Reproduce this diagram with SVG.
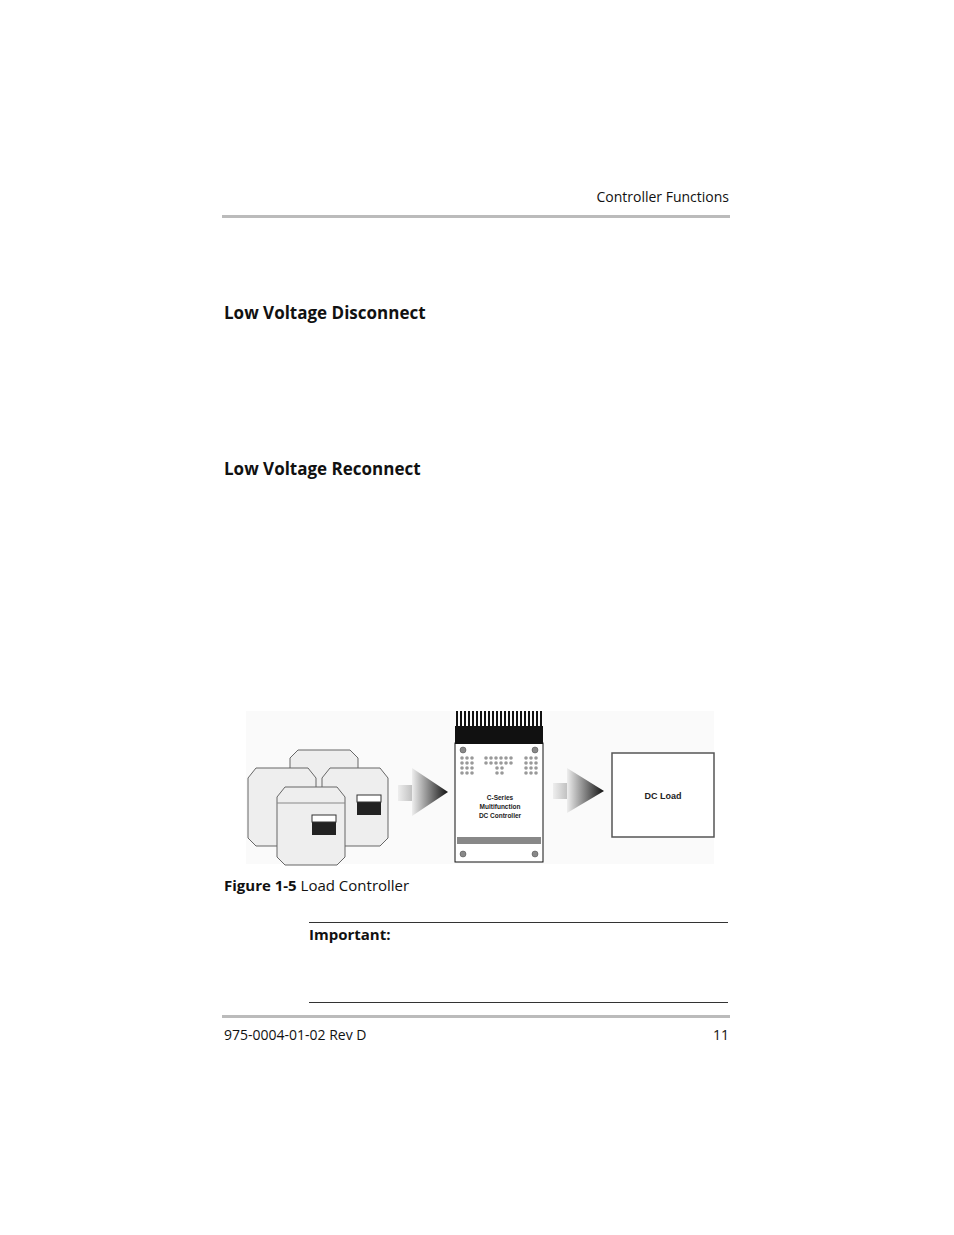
<svg xmlns="http://www.w3.org/2000/svg" width="954" height="1235" viewBox="0 0 954 1235">
<style>
.t{font-family:"Open Sans","Liberation Sans",sans-serif;fill:#111}
.b{font-weight:bold}
.bat{fill:#eee;stroke:#666;stroke-width:1}
.dot{fill:#888;stroke:#444;stroke-width:0.5}
</style>
<defs>
<linearGradient id="ag" x1="0" x2="1" y1="0" y2="0"><stop offset="0" stop-color="#eee"/><stop offset="1" stop-color="#111"/></linearGradient>
<linearGradient id="rg" x1="0" x2="1"><stop offset="0" stop-color="#eee"/><stop offset="1" stop-color="#bbb"/></linearGradient>
</defs>
<rect width="954" height="1235" fill="#fff"/>
<text class="t" x="729" y="202" font-size="14" text-anchor="end">Controller Functions</text>
<rect x="222" y="215" width="508" height="3" fill="#bbb"/>
<text class="t b" x="224" y="319" font-size="17">Low Voltage Disconnect</text>
<text class="t b" x="224" y="475" font-size="17">Low Voltage Reconnect</text>
<rect x="246" y="711" width="468" height="153" fill="#fafafa"/>
<g id="batteries">
<g><path class="bat" d="M290 758 l8-8 h52 l8 8 v40 l-8 8 h-52 l-8-8z"/></g>
<g><path class="bat" d="M248 778 l8-10 h52 l8 10 v60 l-8 8 h-52 l-8-8z"/></g>
<g><path class="bat" d="M322 778 l8-10 h50 l8 10 v60 l-8 8 h-50 l-8-8z"/><rect x="357" y="795" width="24" height="20" fill="#222"/><rect x="357" y="795" width="24" height="7" fill="#fff" stroke="#333"/></g>
<g><path class="bat" d="M277 797 l8-10 h52 l8 10 v60 l-8 8 h-52 l-8-8z"/><rect x="312" y="815" width="24" height="20" fill="#222"/><rect x="312" y="815" width="24" height="7" fill="#fff" stroke="#333"/><line x1="277" y1="803" x2="345" y2="803" stroke="#888"/></g>
</g>
<g id="connectors">
<rect x="398" y="785" width="16" height="16" fill="url(#rg)"/>
<polygon points="412,768 448,792 412,816" fill="url(#ag)"/>
<rect x="553" y="783" width="16" height="16" fill="url(#rg)"/>
<polygon points="567,768 604,791 567,813" fill="url(#ag)"/>
</g>
<g id="controller">
<rect x="455" y="743" width="88" height="119" fill="#fff" stroke="#111"/>
<rect x="455" y="726" width="88" height="18" fill="#111"/>
<path d="M457 728 V711 M461 728 V711 M465 728 V711 M469 728 V711 M473 728 V711 M477 728 V711 M481 728 V711 M485 728 V711 M489 728 V711 M493 728 V711 M497 728 V711 M501 728 V711 M505 728 V711 M509 728 V711 M513 728 V711 M517 728 V711 M521 728 V711 M525 728 V711 M529 728 V711 M533 728 V711 M537 728 V711 M541 728 V711" stroke="#111" stroke-width="2"/>
<circle class="dot" cx="463" cy="750" r="3"/><circle class="dot" cx="535" cy="750" r="3"/>
<circle class="dot" cx="463" cy="854" r="3"/><circle class="dot" cx="535" cy="854" r="3"/>
<g fill="#999">
<circle cx="462" cy="758" r="1.8"/><circle cx="467" cy="758" r="1.8"/><circle cx="472" cy="758" r="1.8"/>
<circle cx="462" cy="763" r="1.8"/><circle cx="467" cy="763" r="1.8"/><circle cx="472" cy="763" r="1.8"/>
<circle cx="462" cy="768" r="1.8"/><circle cx="467" cy="768" r="1.8"/><circle cx="472" cy="768" r="1.8"/>
<circle cx="462" cy="773" r="1.8"/><circle cx="467" cy="773" r="1.8"/><circle cx="472" cy="773" r="1.8"/>
<circle cx="486" cy="758" r="1.8"/><circle cx="491" cy="758" r="1.8"/><circle cx="496" cy="758" r="1.8"/><circle cx="501" cy="758" r="1.8"/><circle cx="506" cy="758" r="1.8"/><circle cx="511" cy="758" r="1.8"/>
<circle cx="486" cy="763" r="1.8"/><circle cx="491" cy="763" r="1.8"/><circle cx="496" cy="763" r="1.8"/><circle cx="501" cy="763" r="1.8"/><circle cx="506" cy="763" r="1.8"/><circle cx="511" cy="763" r="1.8"/>
<circle cx="497" cy="768" r="1.8"/><circle cx="502" cy="768" r="1.8"/><circle cx="497" cy="773" r="1.8"/><circle cx="502" cy="773" r="1.8"/>
<circle cx="526" cy="758" r="1.8"/><circle cx="531" cy="758" r="1.8"/><circle cx="536" cy="758" r="1.8"/>
<circle cx="526" cy="763" r="1.8"/><circle cx="531" cy="763" r="1.8"/><circle cx="536" cy="763" r="1.8"/>
<circle cx="526" cy="768" r="1.8"/><circle cx="531" cy="768" r="1.8"/><circle cx="536" cy="768" r="1.8"/>
<circle cx="526" cy="773" r="1.8"/><circle cx="531" cy="773" r="1.8"/><circle cx="536" cy="773" r="1.8"/>
</g>
<text font-family="Liberation Sans,Arial,sans-serif" font-weight="bold" font-size="6.5" fill="#222" text-anchor="middle"><tspan x="500" y="800">C-Series</tspan><tspan x="500" y="809">Multifunction</tspan><tspan x="500" y="818">DC Controller</tspan></text>
<rect x="457" y="837" width="84" height="7" fill="#888"/>
</g>
<g id="dcload">
<rect x="612" y="753" width="102" height="84" fill="#fff" stroke="#555" stroke-width="1.5"/>
<text x="663" y="799" font-family="Liberation Sans,Arial,sans-serif" font-weight="bold" font-size="9" fill="#222" text-anchor="middle">DC Load</text>
</g>
<text class="t" x="224" y="891" font-size="15"><tspan class="b">Figure 1-5</tspan>  Load Controller</text>
<line x1="309" y1="922.500" x2="728" y2="922.500" stroke="#333"/>
<text class="t b" x="309" y="940" font-size="15">Important:</text>
<line x1="309" y1="1002.500" x2="728" y2="1002.500" stroke="#333"/>
<rect x="222" y="1015" width="508" height="3" fill="#bbb"/>
<text class="t" x="224" y="1040" font-size="14">975-0004-01-02 Rev D</text>
<text class="t" x="729" y="1040" font-size="14" text-anchor="end">11</text>
</svg>
